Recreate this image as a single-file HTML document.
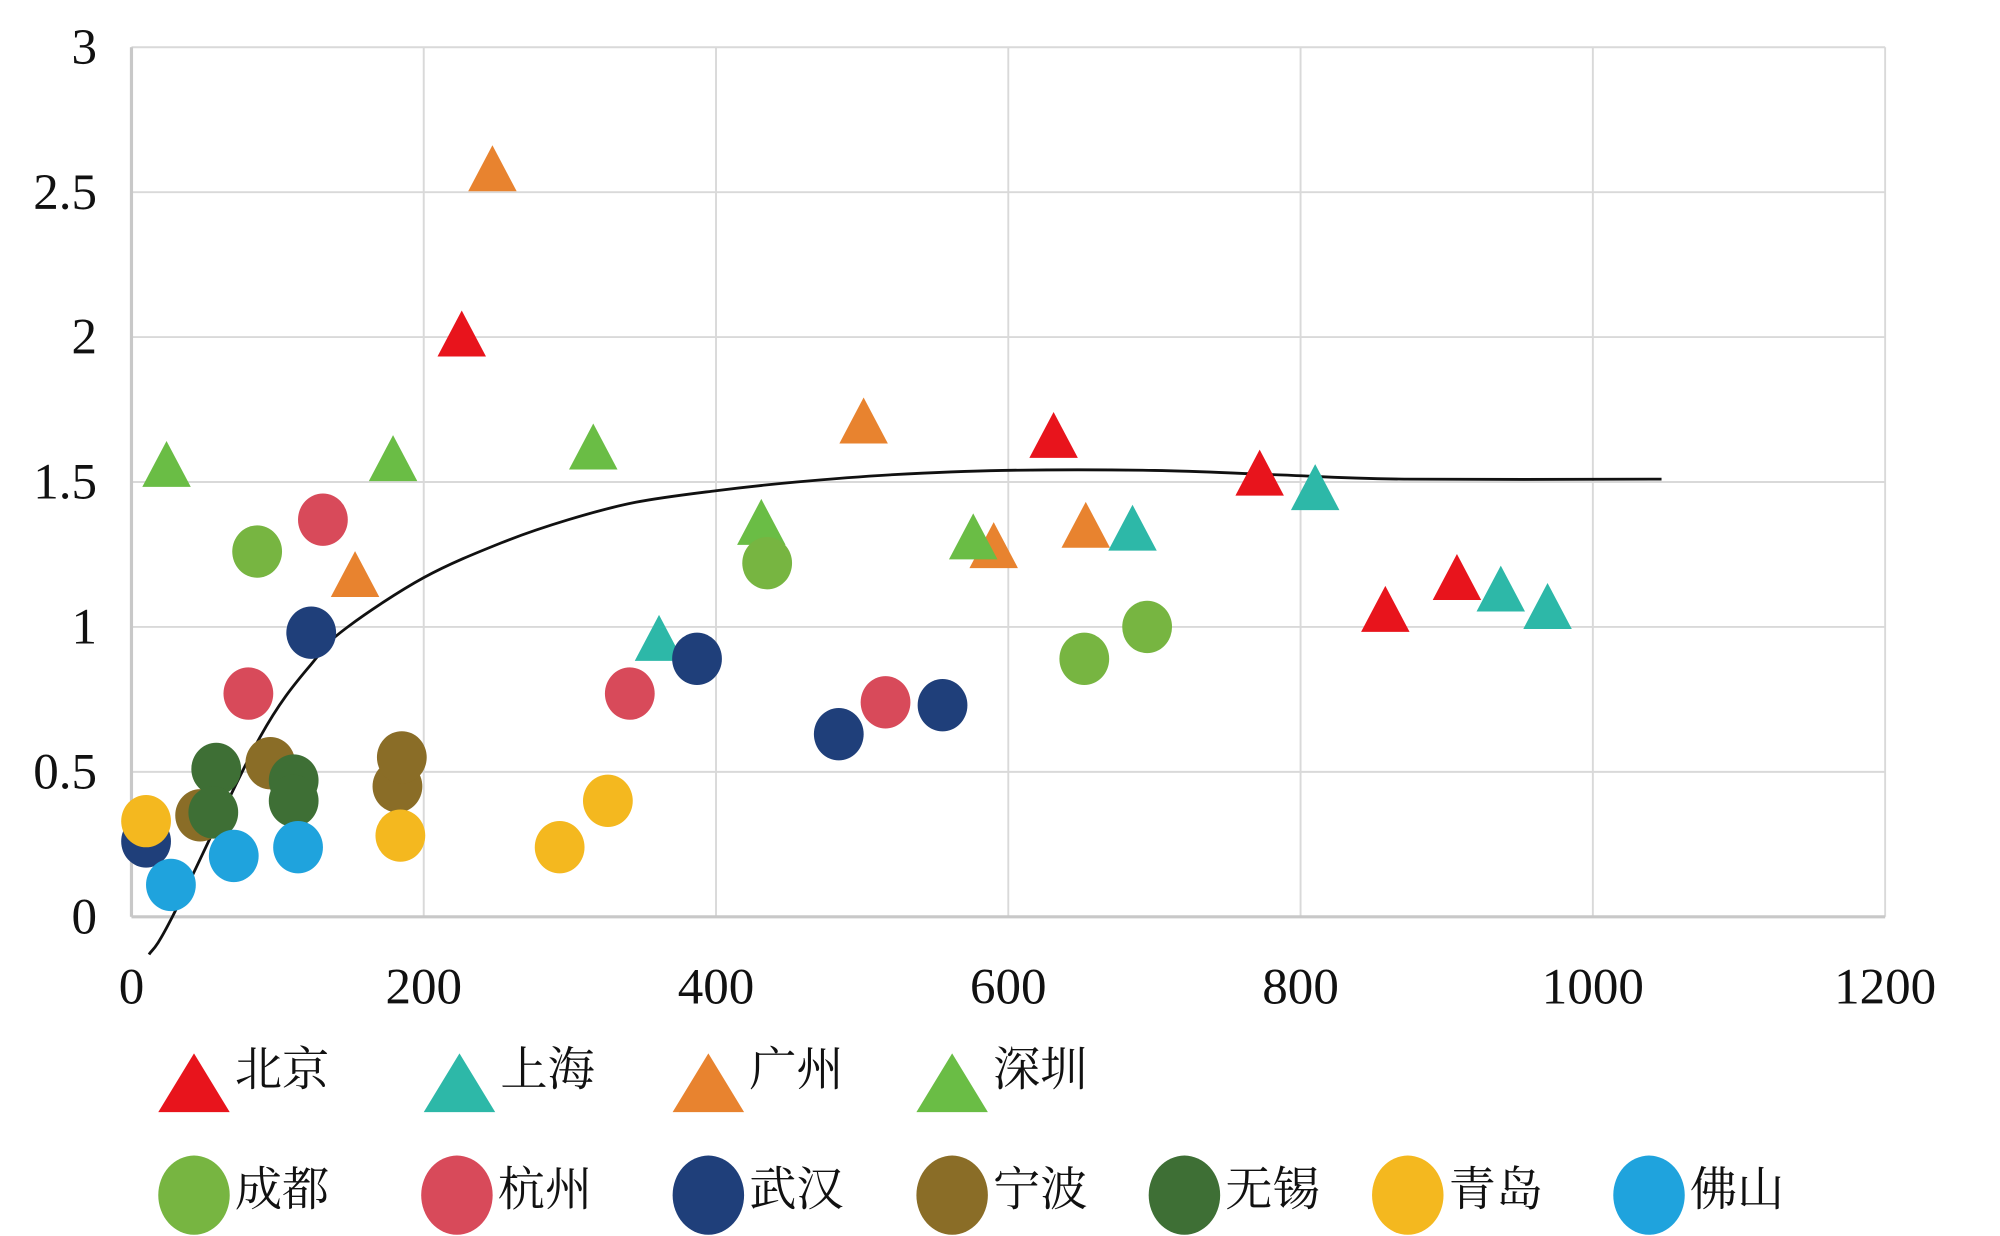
<!DOCTYPE html>
<html><head><meta charset="utf-8"><style>
html,body{margin:0;padding:0;background:#fff;}
svg{display:block;}
text{font-family:"Liberation Serif","Noto Serif CJK SC",serif;fill:#111;}
</style></head><body>
<svg id="chart" width="2000" height="1236" viewBox="0 0 1567 968" preserveAspectRatio="none" xmlns="http://www.w3.org/2000/svg">
<g id="grid"></g>
<g id="axes"></g>
<g id="curve"></g>
<g id="marks"></g>
<g id="legend"></g>
</svg>
<script>
const xTicks = [0,200,400,600,800,1000,1200];
const yTicks = [0,0.5,1,1.5,2,2.5,3];
const yTickLabels = ['0','0.5','1','1.5','2','2.5','3'];
const seriesNames = ['北京','上海','广州','深圳','成都','杭州','武汉','宁波','无锡','青岛','佛山'];
const seriesColors = ['#e8141c','#2db8a8','#e8832f','#6abd45','#77b541','#d84a5a','#1f3f7a','#8a6d27','#3e6f35','#f4b81f','#1fa3dd'];
const seriesShapes = ['tri','tri','tri','tri','cir','cir','cir','cir','cir','cir','cir'];
const beijingX = [226,631,772,858,907];
const beijingY = [2.03,1.68,1.55,1.08,1.19];
const shanghaiX = [361,685,810,937,969];
const shanghaiY = [0.98,1.36,1.50,1.15,1.09];
const guangzhouX = [247,153,501,590,653];
const guangzhouY = [2.60,1.20,1.73,1.30,1.37];
const shenzhenX = [24,179,316,431,576];
const shenzhenY = [1.58,1.60,1.64,1.38,1.33];
const chengduX = [86,435,652,695];
const chengduY = [1.26,1.22,0.89,1.00];
const hangzhouX = [131,80,341,516];
const hangzhouY = [1.37,0.77,0.77,0.74];
const wuhanX = [10,123,387,484,555];
const wuhanY = [0.26,0.98,0.89,0.63,0.73];
const ningboX = [47,95,182,185];
const ningboY = [0.35,0.53,0.45,0.55];
const wuxiX = [58,56,111,111];
const wuxiY = [0.51,0.36,0.47,0.40];
const qingdaoX = [10,184,293,326];
const qingdaoY = [0.33,0.28,0.24,0.40];
const foshanX = [27,70,114];
const foshanY = [0.11,0.21,0.24];
const curveX = [12,28,88,126,148,200,253,299,345,400,455,520,596,700,783,871,1047];
const curveY = [-0.13,0.0,0.62,0.89,1.0,1.17,1.29,1.37,1.43,1.47,1.50,1.525,1.54,1.54,1.525,1.51,1.51];

const NS='http://www.w3.org/2000/svg';
const L=103,R=1477,T=37,B=718;
const sx=v=>L+(v-0)/1200*(R-L);
const sy=v=>B-(v-0)/3*(B-T);
function mk(tag,attrs,parent){const e=document.createElementNS(NS,tag);for(const k in attrs)e.setAttribute(k,attrs[k]);parent.appendChild(e);return e;}
const grid=document.getElementById('grid'),axes=document.getElementById('axes'),marks=document.getElementById('marks'),legend=document.getElementById('legend'),curve=document.getElementById('curve');

xTicks.forEach((t,i)=>{
  const x=sx(t);
  const ln=mk('line',{x1:x,y1:T,x2:x,y2:B,stroke:'#d9d9d9','stroke-width':1.5},grid);
  
  
  const tx=mk('text',{x:x,y:786,'text-anchor':'middle','font-size':40},axes);
  tx.textContent=String(t);
  
  
});
yTicks.forEach((t,i)=>{
  const y=sy(t);
  const ln=mk('line',{x1:L,y1:y,x2:R,y2:y,stroke:'#d9d9d9','stroke-width':1.5},grid);
  
  
  const tx=mk('text',{x:76,y:y+13,'text-anchor':'end','font-size':40},axes);
  tx.textContent=yTickLabels[i];
  
  
});
const xa=mk('line',{x1:L,y1:B,x2:R,y2:B,stroke:'#c8c8c8','stroke-width':2.5},axes);


const ya=mk('line',{x1:L,y1:T,x2:L,y2:B,stroke:'#c8c8c8','stroke-width':2.5},axes);



function tri(cx,cy,w,h,col,parent){return mk('polygon',{points:`${cx},${cy-h/2} ${cx-w/2},${cy+h/2} ${cx+w/2},${cy+h/2}`,fill:col},parent);}
const allX=[beijingX,shanghaiX,guangzhouX,shenzhenX,chengduX,hangzhouX,wuhanX,ningboX,wuxiX,qingdaoX,foshanX];
const allY=[beijingY,shanghaiY,guangzhouY,shenzhenY,chengduY,hangzhouY,wuhanY,ningboY,wuxiY,qingdaoY,foshanY];
allX.forEach((xs,s)=>{
  xs.forEach((v,i)=>{
    const cx=sx(v),cy=sy(allY[s][i]);
    let e;
    if(seriesShapes[s]==='tri') e=tri(cx,cy+4,38,36,seriesColors[s],marks);
    else e=mk('ellipse',{cx:cx,cy:cy,rx:19.5,ry:20.5,fill:seriesColors[s]},marks);
    
    
  });
});

const pts=curveX.map((v,i)=>[sx(v),sy(curveY[i])]);
let d=`M${pts[0][0]},${pts[0][1]}`;
for(let i=0;i<pts.length-1;i++){
  const p0=pts[Math.max(0,i-1)],p1=pts[i],p2=pts[i+1],p3=pts[Math.min(pts.length-1,i+2)];
  const c1=[p1[0]+(p2[0]-p0[0])/6,p1[1]+(p2[1]-p0[1])/6];
  const c2=[p2[0]-(p3[0]-p1[0])/6,p2[1]-(p3[1]-p1[1])/6];
  d+=` C${c1[0]},${c1[1]} ${c2[0]},${c2[1]} ${p2[0]},${p2[1]}`;
}
const cp=mk('path',{d:d,fill:'none',stroke:'#111','stroke-width':2.2},curve);



const legX=[152,360,555,746,152,358,555,746,928,1103,1292];
const legY=[848,848,848,848,936,936,936,936,936,936,936];
seriesNames.forEach((n,s)=>{
  const g=mk('g',{},legend);
  
  
  if(seriesShapes[s]==='tri') tri(legX[s],legY[s],56,46,seriesColors[s],g);
  else mk('ellipse',{cx:legX[s],cy:legY[s],rx:28,ry:31,fill:seriesColors[s]},g);
  const t=mk('text',{x:legX[s]+32,y:legY[s]+(seriesShapes[s]==='tri'?2:8),'font-size':37},g);
  t.textContent=n;
});
</script>
</body></html>
